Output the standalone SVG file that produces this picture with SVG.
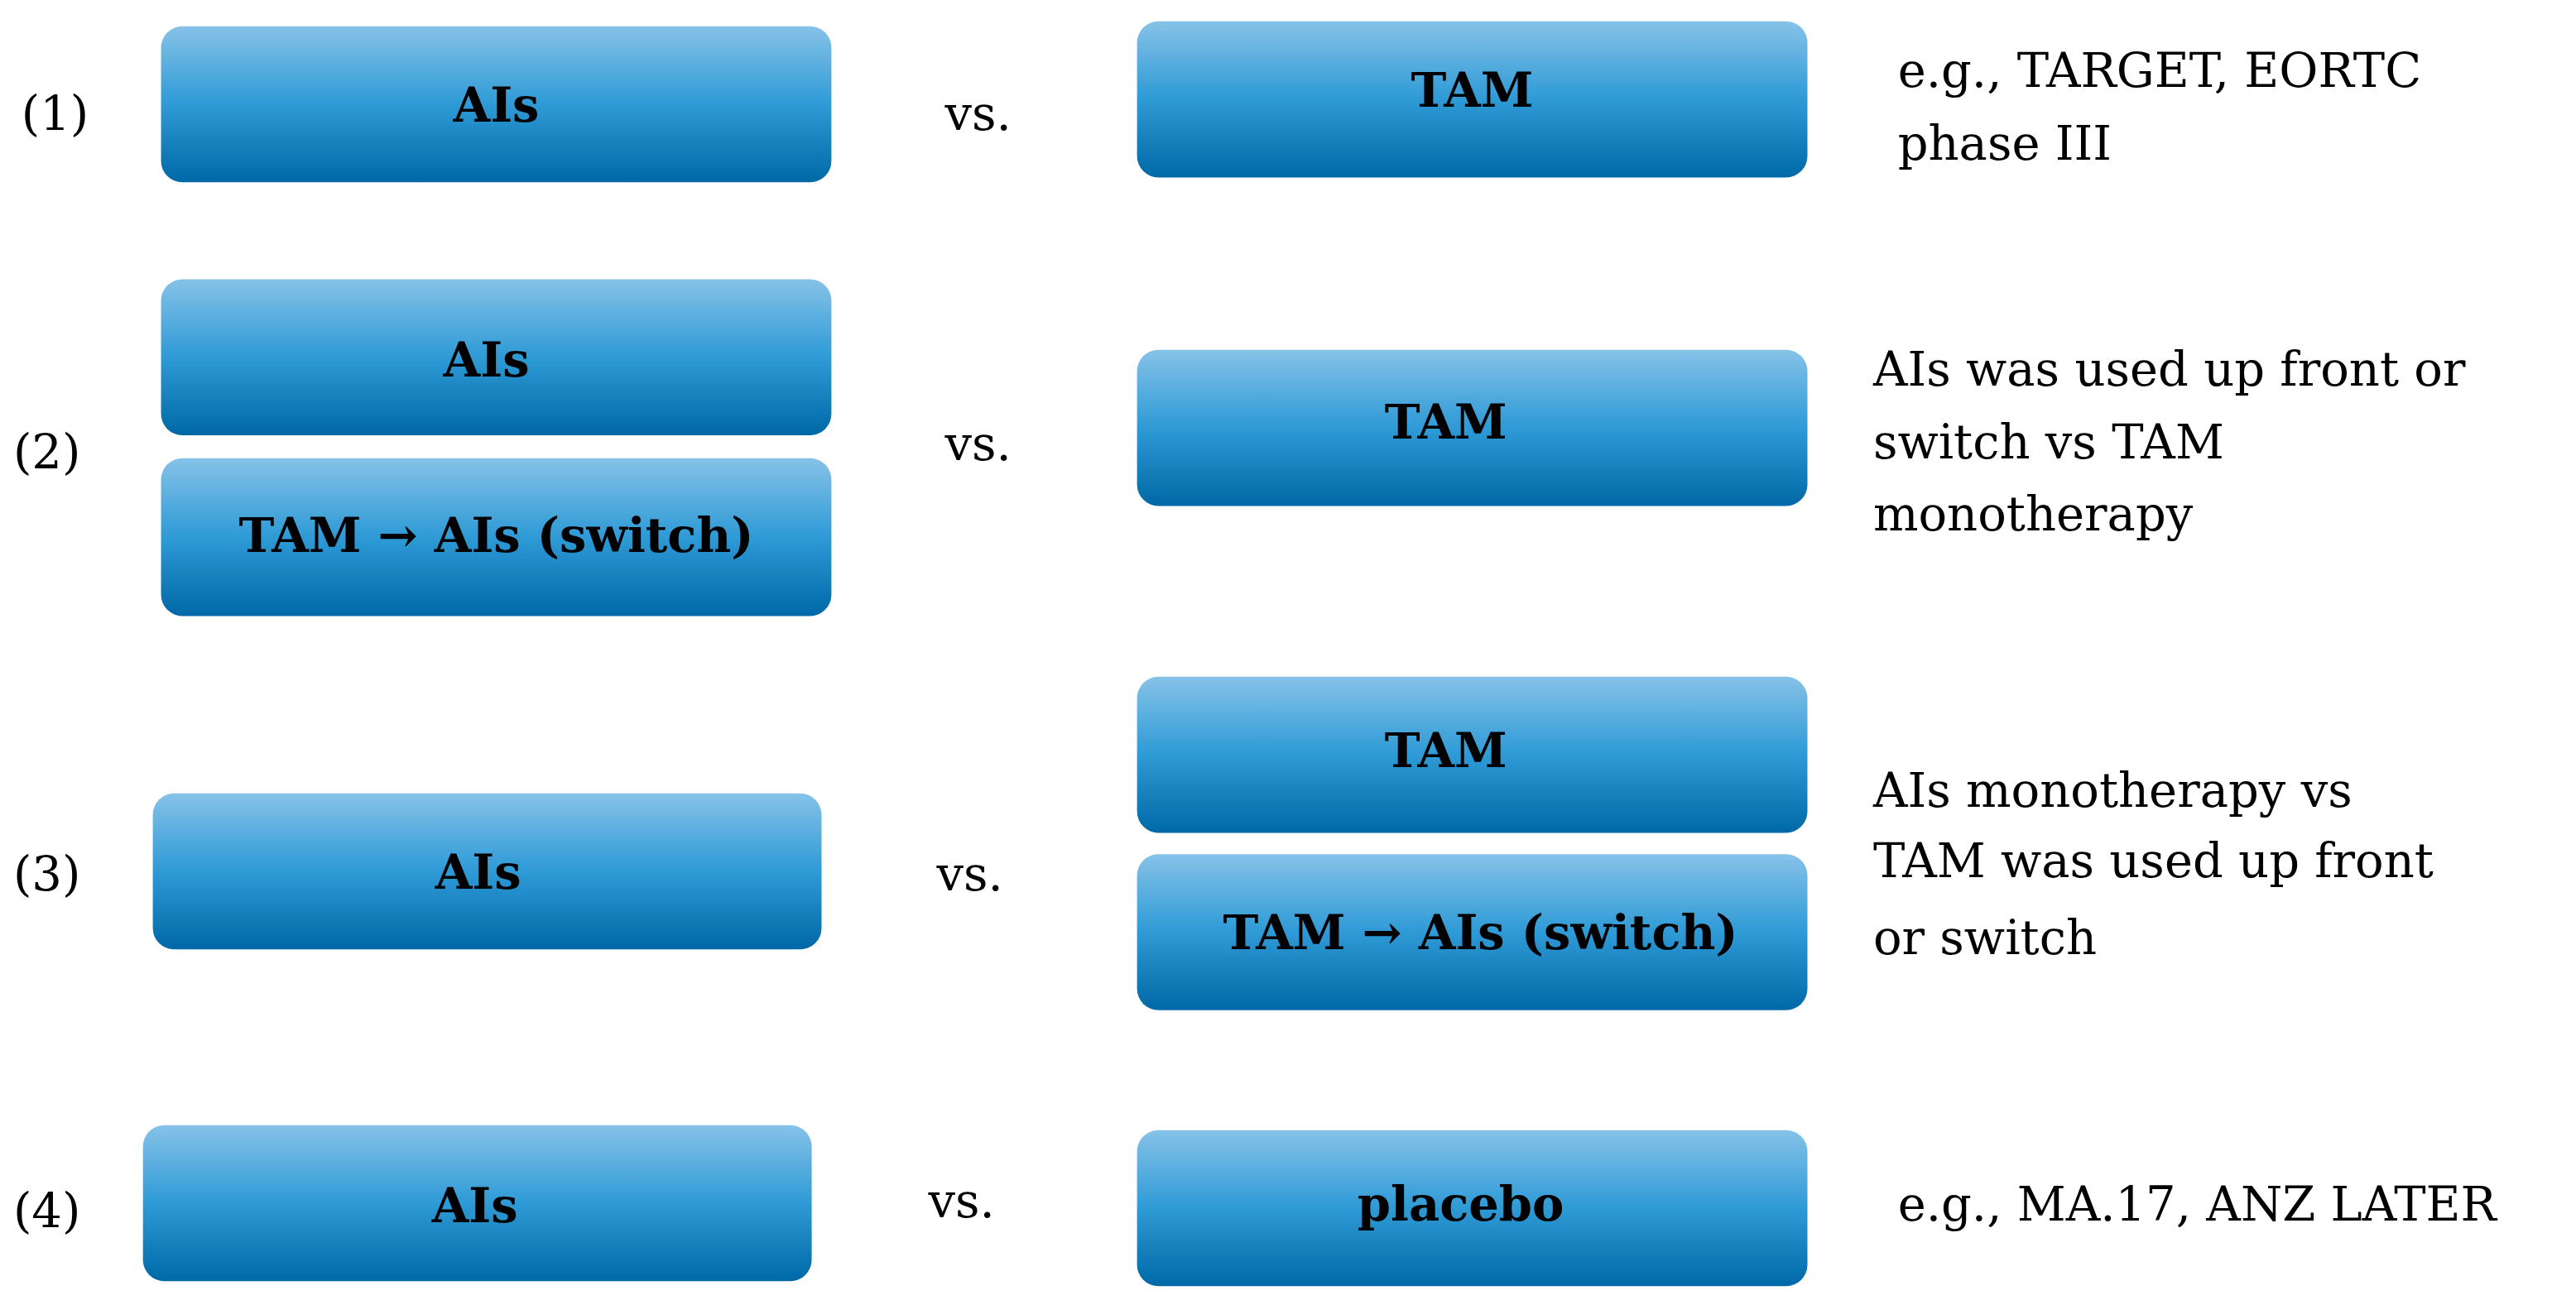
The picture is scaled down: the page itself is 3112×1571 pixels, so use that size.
<svg xmlns="http://www.w3.org/2000/svg" width="3112" height="1571" viewBox="0 0 3112 1571">
<defs>
<linearGradient id="g" x1="0" y1="0" x2="0" y2="1">
<stop offset="0" stop-color="#86c2e8"/>
<stop offset="0.5" stop-color="#2e9ad6"/>
<stop offset="1" stop-color="#0068a6"/>
</linearGradient>
<style>
.b{fill:url(#g)}
.t{font-family:"DejaVu Serif","Liberation Serif",serif;font-weight:bold;font-size:29px;text-anchor:middle;fill:#000}
.s{font-family:"DejaVu Serif","Liberation Serif",serif;font-size:29px;fill:#000}
</style>
</defs>
<rect width="3112" height="1571" fill="#fff"/>
<g transform="scale(1.985)">
<g id="row1">
<text class="s" x="13" y="79">(1)</text>
<g id="r1l"><rect class="b" x="98" y="16" width="408" height="95" rx="13"/><text class="t" x="302" y="74">AIs</text></g>
<text class="s" x="575" y="79">vs.</text>
<g id="r1r"><rect class="b" x="692" y="13" width="408" height="95" rx="13"/><text class="t" x="896" y="65">TAM</text></g>
<text class="s" x="1155" y="53">e.g., TARGET, EORTC</text>
<text class="s" x="1155" y="97">phase III</text>
</g>
<g id="row2">
<text class="s" x="8" y="285">(2)</text>
<g id="r2l1"><rect class="b" x="98" y="170" width="408" height="95" rx="13"/><text class="t" x="296" y="229">AIs</text></g>
<g id="r2l2"><rect class="b" x="98" y="279" width="408" height="96" rx="13"/><text class="t" x="302" y="336">TAM → AIs (switch)</text></g>
<text class="s" x="575" y="280">vs.</text>
<g id="r2r"><rect class="b" x="692" y="213" width="408" height="95" rx="13"/><text class="t" x="880" y="267">TAM</text></g>
<text class="s" x="1140" y="235">AIs was used up front or</text>
<text class="s" x="1140" y="279">switch vs TAM</text>
<text class="s" x="1140" y="323">monotherapy</text>
</g>
<g id="row3">
<text class="s" x="8" y="542">(3)</text>
<g id="r3l"><rect class="b" x="93" y="483" width="407" height="95" rx="13"/><text class="t" x="291" y="541">AIs</text></g>
<text class="s" x="570" y="542">vs.</text>
<g id="r3r1"><rect class="b" x="692" y="412" width="408" height="95" rx="13"/><text class="t" x="880" y="467">TAM</text></g>
<g id="r3r2"><rect class="b" x="692" y="520" width="408" height="95" rx="13"/><text class="t" x="901" y="578">TAM → AIs (switch)</text></g>
<text class="s" x="1140" y="491">AIs monotherapy vs</text>
<text class="s" x="1140" y="534">TAM was used up front</text>
<text class="s" x="1140" y="581">or switch</text>
</g>
<g id="row4">
<text class="s" x="8" y="747">(4)</text>
<g id="r4l"><rect class="b" x="87" y="685" width="407" height="95" rx="13"/><text class="t" x="289" y="744">AIs</text></g>
<text class="s" x="565" y="741">vs.</text>
<g id="r4r"><rect class="b" x="692" y="688" width="408" height="95" rx="13"/><text class="t" x="889" y="743">placebo</text></g>
<text class="s" x="1155" y="743">e.g., MA.17, ANZ LATER</text>
</g>
</g>
<g id="connectors"/>
</svg>
